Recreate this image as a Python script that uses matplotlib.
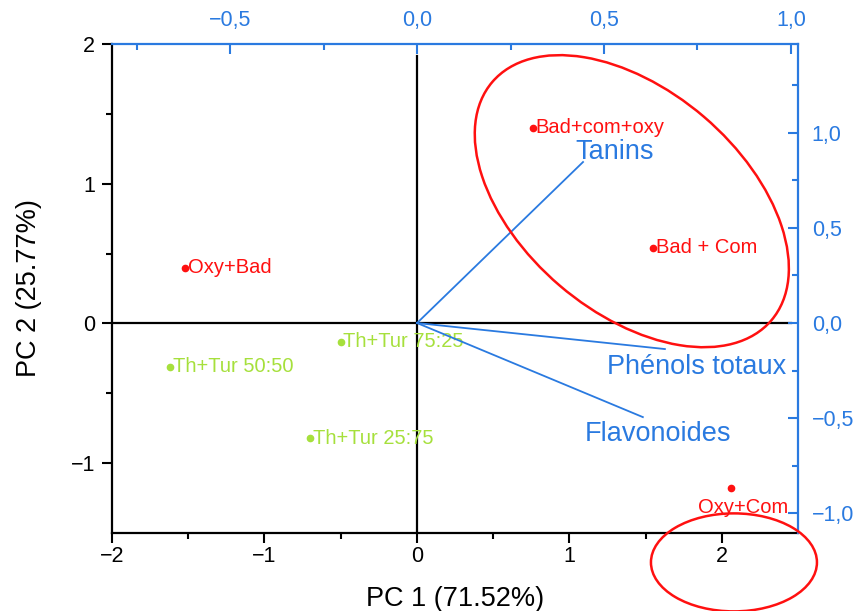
import matplotlib
matplotlib.use("Agg")
import matplotlib.pyplot as plt
from matplotlib.patches import Ellipse
from matplotlib.transforms import ScaledTranslation
from matplotlib.ticker import FixedLocator, FuncFormatter

plt.rcParams['font.family'] = ['Liberation Sans', 'DejaVu Sans']

# scores (PC1, PC2)
samples = ['Oxy+Bad', 'Bad+com+oxy', 'Bad + Com', 'Oxy+Com',
           'Th+Tur 75:25', 'Th+Tur 50:50', 'Th+Tur 25:75']
pc1 = [-1.52, 0.76, 1.55, 2.06, -0.50, -1.62, -0.70]
pc2 = [0.40, 1.40, 0.54, -1.18, -0.13, -0.31, -0.82]
groups = ['red', 'red', 'red', 'red', 'green', 'green', 'green']

# loadings (top / right axes)
variables = ['Tanins', 'Phénols totaux', 'Flavonoides']
load_x = [0.444, 0.663, 0.604]
load_y = [0.847, -0.137, -0.495]

RED = '#ff1010'
GREEN = '#a6e03c'
BLUE = '#2a7ae0'
colors = {'red': RED, 'green': GREEN}

fig = plt.figure(figsize=(8.61, 6.11), dpi=100)
pos = [0.1301, 0.1276, 0.7967, 0.8004]
ax = fig.add_axes(pos)
ax2 = fig.add_axes(pos)
ax2.patch.set_visible(False)

# main axes (scores)
ax.set_xlim(-2, 2.5)
ax.set_ylim(-1.5, 2)
ax.axhline(0, color='black', lw=1.6, xmax=0.99, zorder=1)
ax.axvline(0, color='black', lw=1.6, ymax=0.975, zorder=1)

for x, y, name, g in zip(pc1, pc2, samples, groups):
    c = colors[g]
    ax.plot(x, y, 'o', color=c, ms=4.5, zorder=3)
    if name == 'Oxy+Com':
        ax.annotate(name, (x, y), xytext=(9, -14), textcoords='offset points',
                    ha='center', va='center', color=c, fontsize=14.5)
    else:
        ax.annotate(name, (x, y), xytext=(2, 0), textcoords='offset points',
                    ha='left', va='center', color=c, fontsize=14.5)

ax.xaxis.set_major_locator(FixedLocator([-2, -1, 0, 1, 2]))
ax.xaxis.set_minor_locator(FixedLocator([-1.5, -0.5, 0.5, 1.5]))
ax.yaxis.set_major_locator(FixedLocator([-1, 0, 1, 2]))
ax.yaxis.set_minor_locator(FixedLocator([-0.5, 0.5, 1.5]))
ax.tick_params(which='major', direction='out', length=7, width=1.5, labelsize=15.5, pad=2)
ax.tick_params(axis='y', which='major', pad=5)
ax.tick_params(which='minor', direction='out', length=4, width=1.5)
for s in ['left', 'bottom']:
    ax.spines[s].set_linewidth(1.6)
for s in ['top', 'right']:
    ax.spines[s].set_visible(False)
ax.set_xlabel('PC 1 (71.52%)', fontsize=19.5, labelpad=14)
ax.set_ylabel('PC 2 (25.77%)', fontsize=19.5, labelpad=21)

# loadings axes
ax2.set_xlim(-0.816, 1.019)
ax2.set_ylim(-1.105, 1.468)
ax2.xaxis.tick_top()
ax2.yaxis.tick_right()
for s in ['left', 'bottom']:
    ax2.spines[s].set_visible(False)
for s in ['top', 'right']:
    ax2.spines[s].set_color(BLUE)
    ax2.spines[s].set_linewidth(1.6)

comma = FuncFormatter(lambda v, p: f'{v:.1f}'.replace('.', ',').replace('-', '\u2212'))
ax2.xaxis.set_major_locator(FixedLocator([-0.5, 0.0, 0.5, 1.0]))
ax2.xaxis.set_minor_locator(FixedLocator([-0.75, -0.25, 0.25, 0.75]))
ax2.yaxis.set_major_locator(FixedLocator([-1.0, -0.5, 0.0, 0.5, 1.0]))
ax2.yaxis.set_minor_locator(FixedLocator([-0.75, -0.25, 0.25, 0.75, 1.25]))
ax2.xaxis.set_major_formatter(comma)
ax2.yaxis.set_major_formatter(comma)
ax2.tick_params(which='major', direction='in', length=7, width=1.5,
                color=BLUE, labelcolor=BLUE, labelsize=15.5)
ax2.tick_params(axis='x', which='major', pad=9)
ax2.tick_params(axis='y', which='major', pad=10)
ax2.tick_params(which='minor', direction='in', length=4, width=1.5, color=BLUE)

label_off = {'Tanins': (23, 7, 'center'),
             'Phénols totaux': (-42, -13, 'left'),
             'Flavonoides': (-42, -12, 'left')}
for lx, ly, name in zip(load_x, load_y, variables):
    ax2.plot([0, lx], [0, ly], color=BLUE, lw=1.3, zorder=2)
    dx, dy, ha = label_off[name]
    ax2.annotate(name, (lx, ly), xytext=(dx, dy), textcoords='offset points',
                 ha=ha, va='center', color=BLUE, fontsize=19.5)

# group ellipses
e1 = Ellipse((0, 0), width=3.67, height=2.22, angle=-40.5, fill=False,
             edgecolor=RED, lw=1.8,
             transform=fig.dpi_scale_trans + ScaledTranslation(1.41, 0.875, ax.transData))
e2 = Ellipse((0, 0), width=1.66, height=0.98, angle=0, fill=False,
             edgecolor=RED, lw=1.8,
             transform=fig.dpi_scale_trans + ScaledTranslation(2.08, -1.71, ax.transData))
fig.add_artist(e1)
fig.add_artist(e2)

fig.savefig('out.png', dpi=100)
